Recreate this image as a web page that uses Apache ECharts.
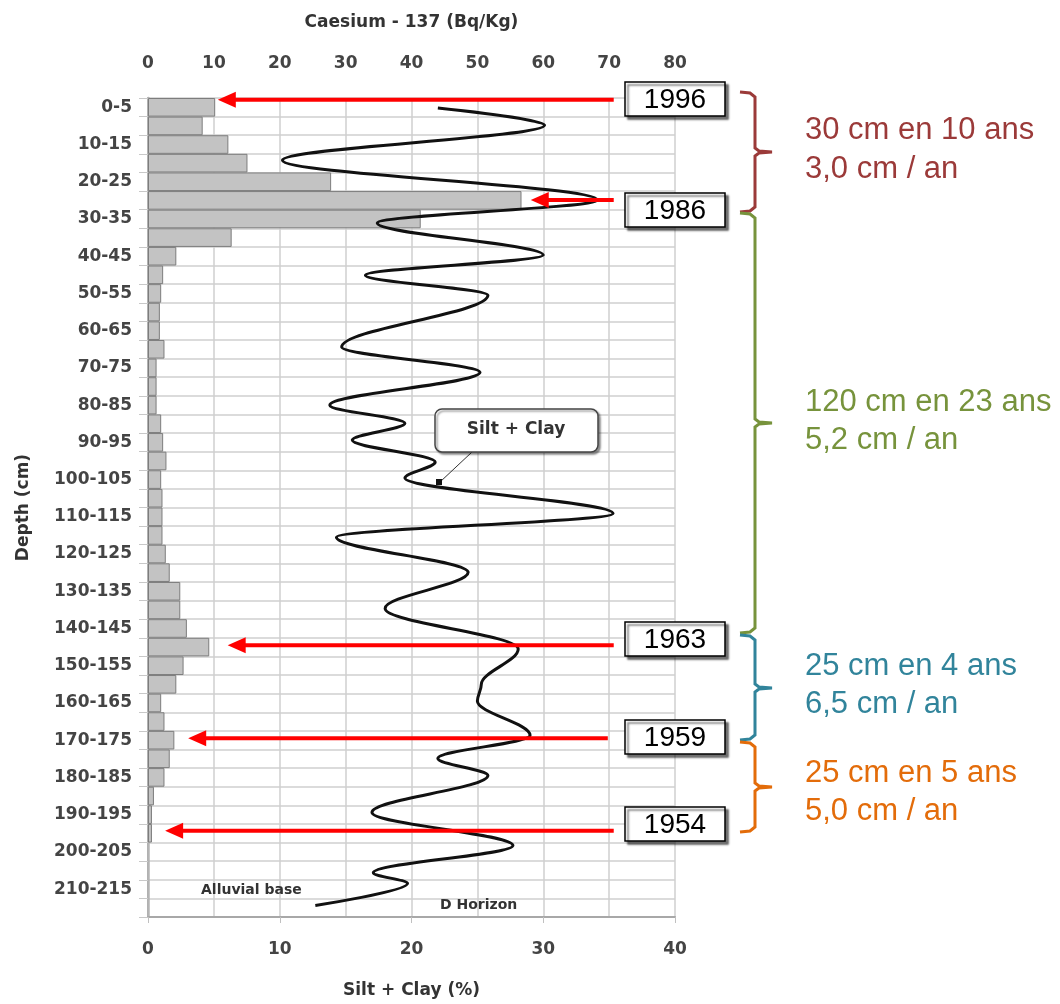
<!DOCTYPE html>
<html>
<head>
<meta charset="utf-8">
<script src="https://cdn.jsdelivr.net/npm/echarts@6/dist/echarts.min.js"></script>
<style>
html,body{margin:0;padding:0;background:#fff;}
#chart{width:1060px;height:1004px;}
</style>
</head>
<body>
<div id="chart"></div>
<script>
// ---- data ----
const depthLabels = ['0-5','5-10','10-15','15-20','20-25','25-30','30-35','35-40','40-45','45-50',
  '50-55','55-60','60-65','65-70','70-75','75-80','80-85','85-90','90-95','95-100',
  '100-105','105-110','110-115','115-120','120-125','125-130','130-135','135-140','140-145','145-150',
  '150-155','155-160','160-165','165-170','170-175','175-180','180-185','185-190','190-195','195-200',
  '200-205','205-210','210-215','215-220'];
const caesium = [10.2, 8.3, 12.2, 15.1, 27.8, 56.7, 41.4, 12.7, 4.3, 2.3,
  2.0, 1.8, 1.8, 2.5, 1.3, 1.3, 1.3, 2.0, 2.3, 2.8,
  2.0, 2.2, 2.2, 2.2, 2.7, 3.3, 4.9, 4.9, 5.9, 9.3,
  5.4, 4.3, 2.0, 2.5, 4.0, 3.3, 2.5, 0.9, 0.6, 0.6,
  null, null, null, null];
const siltPct = [22.0,30.1,10.2,34.1,17.4,30.0,16.5,25.8,14.7,25.2,13.8,19.5,15.5,21.8,19.5,35.3,
  14.3,24.3,18.0,28.1,25.3,25.0,29.0,22.0,25.8,17.0,27.7,17.1,19.7,12.7];
const siltDepth = [2.7,7.3,16.7,27.4,33.6,42.2,47.6,53.0,66.9,73.7,82.5,87.4,91.9,97.8,102.1,111.6,
  118.0,127.4,137.1,148.0,157.5,162.0,171.2,177.4,182.0,191.9,200.8,208.1,211.0,216.9];
const caesiumTicks = [0, 80, 10];
const siltTicks = [0, 40, 10];
// dating markers: year, caesium value at arrow tip, arrow tail value, depth (cm)
const markerYears = ['1996','1986','1963','1959','1954'];
const markerTip = [10.6, 58.1, 12.1, 6.1, 2.6];
const markerTail = [70.7, 70.7, 70.7, 69.8, 70.7];
const markerDepth = [0.5, 27.4, 147.0, 172.0, 196.8];
const rateLines = [['30 cm en 10 ans','3,0 cm / an'],['120 cm en 23 ans','5,2 cm / an'],
  ['25 cm en 4 ans','6,5 cm / an'],['25 cm en 5 ans','5,0 cm / an']];
const rateColors = ['#9b3a39','#77933c','#31849b','#e36c0a'];

const siltData = siltPct.map((v, i) => [v, siltDepth[i]]);
const axisFont = {fontFamily:'DejaVu Sans', fontWeight:'bold', fontSize:17, color:'#444'};

const chart = echarts.init(document.getElementById('chart'), null, {renderer:'canvas'});
const option = {
  backgroundColor:'#fff',
  animation:false,
  grid:{left:148, right:385, top:98, bottom:87, containLabel:false},
  xAxis:[
    {type:'value', position:'top', min:caesiumTicks[0], max:caesiumTicks[1], interval:caesiumTicks[2],
     name:'Caesium - 137 (Bq/Kg)', nameLocation:'middle', nameGap:67,
     nameTextStyle:Object.assign({}, axisFont, {color:'#333'}),
     axisLine:{show:true, lineStyle:{color:'#d8d8d8', width:1}},
     axisTick:{show:false},
     axisLabel:Object.assign({margin:26}, axisFont),
     splitLine:{show:true, lineStyle:{color:'#cfcfcf', width:1.5}}},
    {type:'value', position:'bottom', min:siltTicks[0], max:siltTicks[1], interval:siltTicks[2],
     name:'Silt + Clay (%)', nameLocation:'middle', nameGap:65,
     nameTextStyle:Object.assign({}, axisFont, {color:'#333'}),
     axisLine:{show:true, lineStyle:{color:'#a8a8a8', width:2}},
     axisTick:{show:true, length:6, lineStyle:{color:'#c0c0c0'}},
     axisLabel:Object.assign({margin:24}, axisFont),
     splitLine:{show:false}}
  ],
  yAxis:[
    {type:'category', data:depthLabels, inverse:true, position:'left',
     name:'Depth (cm)', nameLocation:'middle', nameGap:116, nameRotate:90,
     nameTextStyle:Object.assign({}, axisFont, {color:'#333'}),
     axisLine:{show:true, lineStyle:{color:'#a8a8a8', width:2}},
     axisTick:{show:true, interval:0, length:9, lineStyle:{color:'#c8c8c8'}},
     axisLabel:Object.assign({interval:1, margin:16}, axisFont),
     splitLine:{show:false}},
    {type:'value', min:0, max:220, interval:5, inverse:true, position:'right',
     axisLine:{show:true, lineStyle:{color:'#b4b4b4', width:2.5}},
     axisTick:{show:false}, axisLabel:{show:false},
     splitLine:{show:true, lineStyle:{color:'#cfcfcf', width:1.5}}}
  ],
  series:[
    {type:'bar', xAxisIndex:0, yAxisIndex:0, data:caesium, barCategoryGap:'0%',
     itemStyle:{color:'#c3c3c3', borderColor:'#7d7d7d', borderWidth:1}, z:3},
    {type:'line', xAxisIndex:1, yAxisIndex:1, data:siltData, smooth:0.35, smoothMonotone:'y',
     showSymbol:false, lineStyle:{color:'#111', width:3}, z:4}
  ]
};
chart.setOption(option);

function buildGraphics(){
  const els = [];
  // arrows
  for (let i = 0; i < markerYears.length; i++){
    const tx = chart.convertToPixel({xAxisIndex:0}, markerTip[i]);
    const sx = chart.convertToPixel({xAxisIndex:0}, markerTail[i]);
    const y = chart.convertToPixel({yAxisIndex:1}, markerDepth[i]);
    els.push({type:'line', shape:{x1:sx, y1:y, x2:tx+14, y2:y}, style:{stroke:'#ff0000', lineWidth:4}, z:50});
    els.push({type:'polygon', shape:{points:[[tx,y],[tx+18,y-8],[tx+18,y+8]]}, style:{fill:'#ff0000'}, z:50});
  }
  // year boxes
  const boxTop = [82, 193, 622, 720, 807];
  for (let i = 0; i < markerYears.length; i++){
    els.push({type:'rect', shape:{x:625, y:boxTop[i], width:100, height:34},
      style:{fill:'#fff', stroke:'#000', lineWidth:1.5, shadowBlur:2, shadowOffsetX:3, shadowOffsetY:3, shadowColor:'rgba(0,0,0,0.55)'}, z:60});
    els.push({type:'text', x:675, y:boxTop[i]+18, style:{text:markerYears[i], fill:'#000',
      font:'28px "Liberation Sans", Arial, sans-serif', textAlign:'center', textVerticalAlign:'middle'}, z:61});
  }
  // braces
  const braces = [[92,152,212],[213,423,633],[635,688,740],[742,787,832]];
  braces.forEach((b, i) => {
    const [t, m, btm] = b;
    els.push({type:'polyline', shape:{points:[[740,t],[750,t+1],[755,t+5],[755,m-4],[759,m-1],[772,m],[759,m+1],[755,m+4],[755,btm-5],[750,btm-1],[740,btm]]},
      style:{stroke:rateColors[i], lineWidth:3, fill:null}, z:40});
  });
  const textY = [[130,169],[402,440],[666,704],[773,811]];
  rateLines.forEach((lines, i) => {
    lines.forEach((s, j) => {
      els.push({type:'text', x:805, y:textY[i][j], style:{text:s, fill:rateColors[i],
        font:'31px "Liberation Sans", Arial, sans-serif', textAlign:'left', textVerticalAlign:'middle'}, z:40});
    });
  });
  // Silt + Clay callout
  els.push({type:'line', shape:{x1:472, y1:452, x2:440, y2:482}, style:{stroke:'#333', lineWidth:1}, z:55});
  els.push({type:'rect', shape:{x:436, y:479, width:6, height:6}, style:{fill:'#111'}, z:55});
  els.push({type:'rect', shape:{x:435, y:409, width:163, height:43, r:7},
    style:{fill:'#fff', stroke:'#444', lineWidth:1.5, shadowBlur:2, shadowOffsetX:2, shadowOffsetY:2, shadowColor:'rgba(0,0,0,0.4)'}, z:56});
  els.push({type:'text', x:516, y:430, style:{text:'Silt + Clay', fill:'#333',
    font:'bold 17px "DejaVu Sans", sans-serif', textAlign:'center', textVerticalAlign:'middle'}, z:57});
  els.push({type:'text', x:201, y:890, style:{text:'Alluvial base', fill:'#333',
    font:'bold 14px "DejaVu Sans", sans-serif', textAlign:'left', textVerticalAlign:'middle'}, z:57});
  els.push({type:'text', x:440, y:905, style:{text:'D Horizon', fill:'#333',
    font:'bold 14px "DejaVu Sans", sans-serif', textAlign:'left', textVerticalAlign:'middle'}, z:57});
  return els;
}
chart.setOption({graphic:{elements:buildGraphics()}});
</script>
</body>
</html>
